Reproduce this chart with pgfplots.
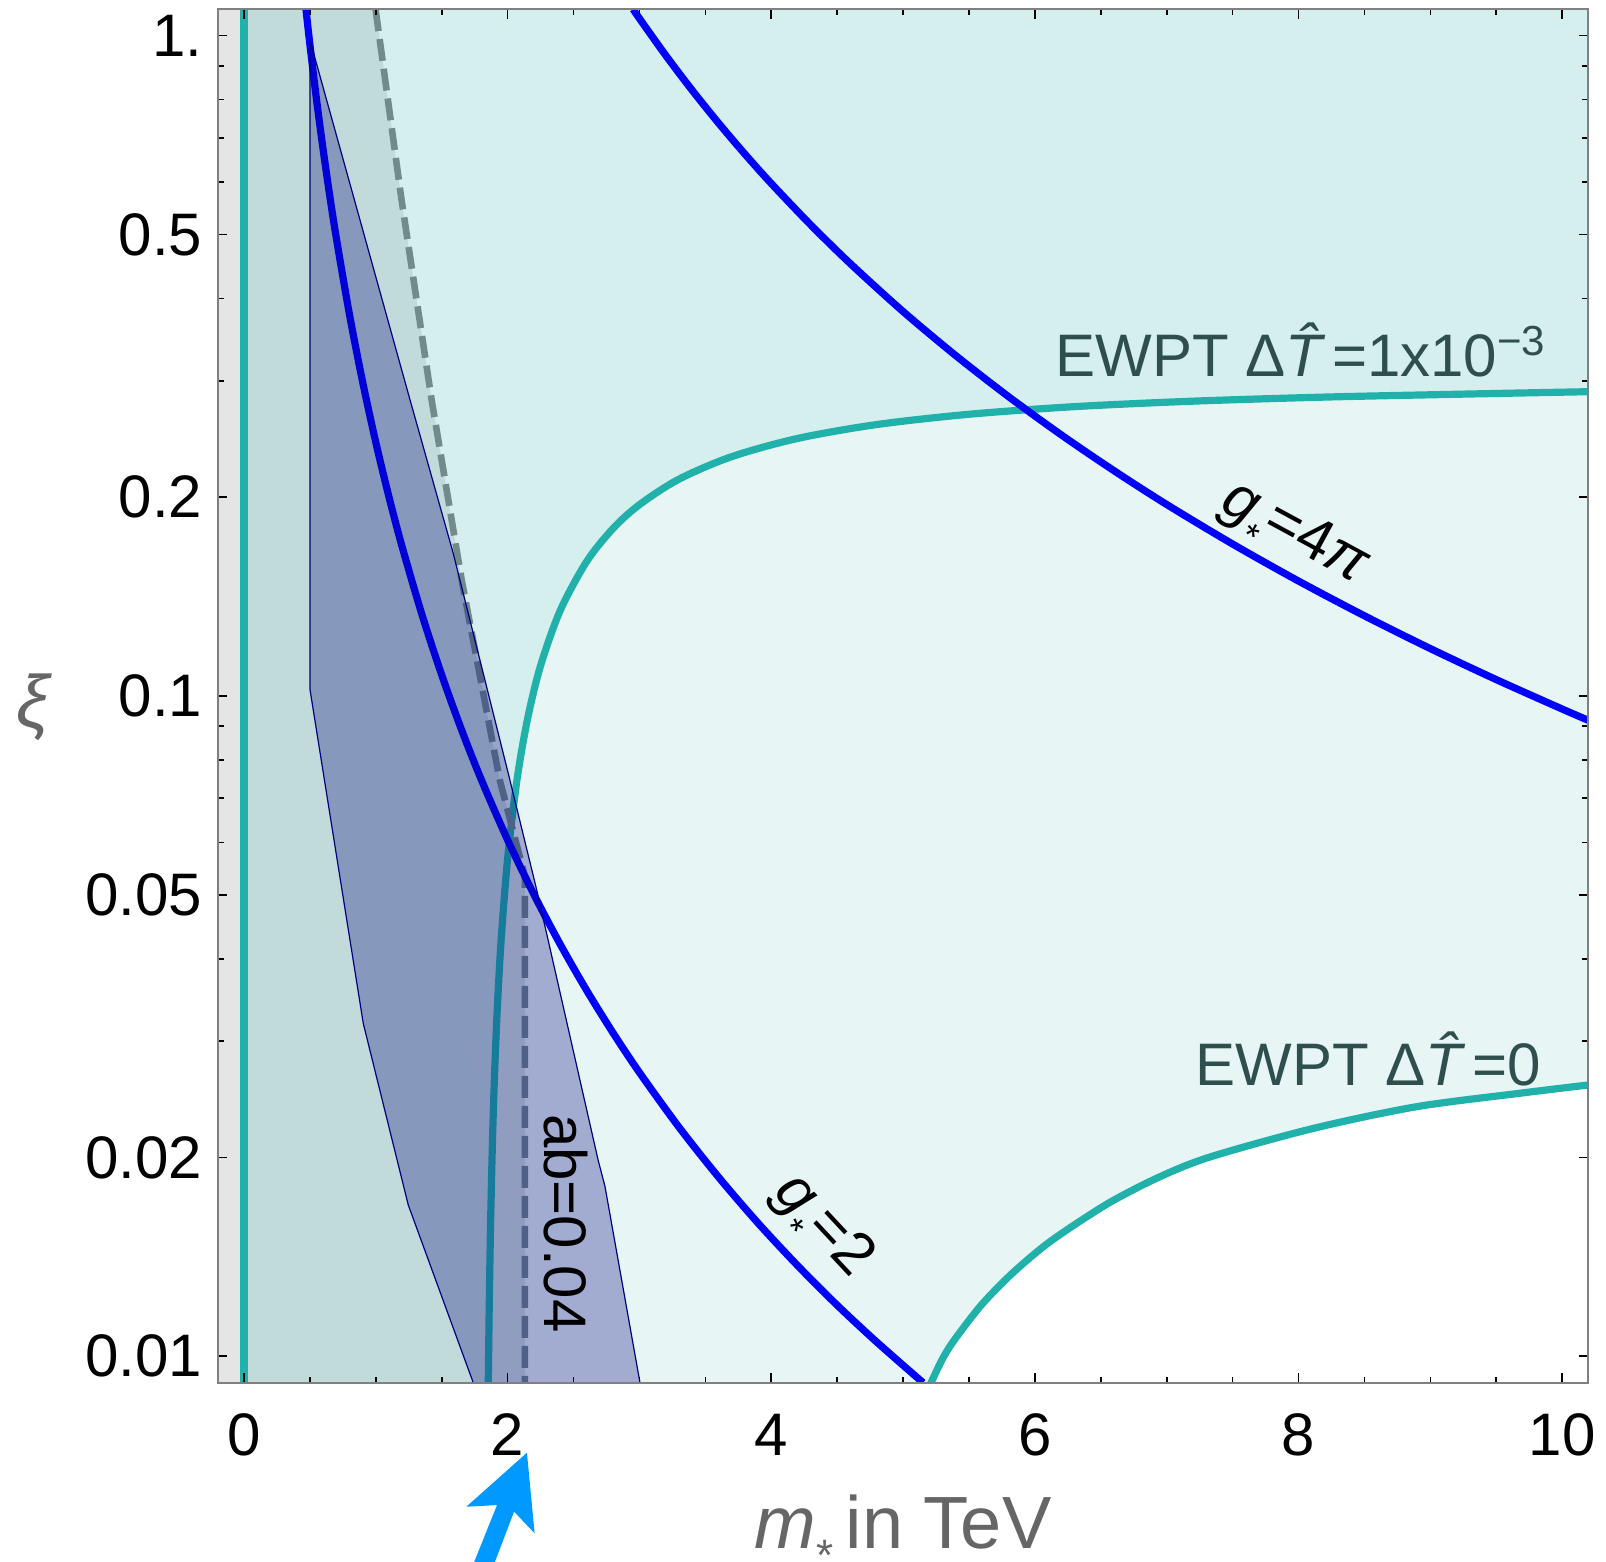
\documentclass[border=0pt]{standalone}
\usepackage{pgfplots}
\pgfplotsset{compat=1.18}
\usepackage{fontspec}
\setmainfont{Liberation Sans}
\definecolor{vlteal}{RGB}{231,246,245}
\definecolor{lteal}{RGB}{213,238,238}
\definecolor{lgray}{RGB}{229,229,229}
\definecolor{seag}{RGB}{32,178,170}
\definecolor{dashc}{RGB}{113,139,139}
\definecolor{bandc}{RGB}{3,1,124}
\definecolor{edgec}{RGB}{0,0,128}
\definecolor{lblc}{RGB}{47,79,79}
\definecolor{axlbl}{RGB}{102,102,102}
\definecolor{arrowc}{RGB}{0,153,255}
\newcommand{\gstar}{\textit{g}\raisebox{-5.2pt}{\fontsize{9}{9}\selectfont *}}
\begin{document}
\begin{tikzpicture}
\begin{axis}[
  scale only axis, width=342.7pt, height=343.35pt,
  xmin=-0.2, xmax=10.2, ymode=log, log basis y=10, ymin=0.00912, ymax=1.0965,
  xtick={0,2,4,6,8,10}, xticklabels={0,2,4,6,8,10},
  minor xtick={0.5,1,1.5,2.5,3,3.5,4.5,5,5.5,6.5,7,7.5,8.5,9,9.5},
  ytick={0.01,0.02,0.05,0.1,0.2,0.5,1}, yticklabels={0.01,0.02,0.05,0.1,0.2,0.5,1.},
  minor ytick={0.03,0.04,0.06,0.07,0.08,0.09,0.3,0.4,0.6,0.7,0.8,0.9},
  tick align=inside,
  major tick length=2.4pt, minor tick length=1.5pt,
  every tick/.style={black, line width=0.4pt},
  axis line style={gray, line width=0.5pt},
  ticklabel style={font=\fontsize{15}{18}\selectfont, text=black},
  xticklabel style={inner sep=0pt, anchor=north, yshift=-7.6pt},
  yticklabel style={inner sep=0pt, anchor=east, xshift=-3.7pt},
  /pgf/number format/assume math mode=true,
  clip mode=individual,
  axis on top,
]
% very light teal: above EWPT DeltaT=0
\addplot[draw=none, fill=vlteal] coordinates {(-0.2,0.00912) (5.212,0.00912) (5.300,0.00992) (5.388,0.01058) (5.583,0.01189) (5.777,0.01306) (5.973,0.01416) (6.168,0.01518) (6.557,0.01705) (6.947,0.0187) (7.336,0.02006) (8.117,0.02215) (8.897,0.02388) (9.676,0.02502) (10.2,0.02576) (10.2,1.0965) (-0.2,1.0965)};
% light teal: above EWPT DeltaT=1e-3
\addplot[draw=none, fill=lteal] coordinates {(-0.2,0.00912) (1.853,0.00912) (1.86,0.0118) (1.87,0.0157) (1.885,0.02126) (1.90,0.02652) (1.92,0.03318) (1.95,0.04256) (2.0,0.05679) (2.07,0.07447) (2.15,0.09213) (2.25,0.1112) (2.4,0.1349) (2.6,0.1599) (2.8,0.1794) (3.0,0.1949) (3.3,0.2130) (3.7,0.2304) (4.2,0.2455) (4.8,0.2577) (5.5,0.2671) (6.3,0.2743) (7.2,0.2796) (8.2,0.2836) (9.2,0.2864) (10.2,0.2890) (10.2,1.0965) (-0.2,1.0965)};
% grey overlay left of dashed line
\addplot[draw=none, fill=dashc, fill opacity=0.2] coordinates {(0,0.00912) (2.131,0.00912) (2.131,0.0533) (1.94,0.0746) (1.651,0.150) (1.423,0.281) (1.195,0.564) (0.998,1.0965) (0,1.0965)};
% grey strip
\addplot[draw=none, fill=lgray] coordinates {(-0.2,0.00912) (0,0.00912) (0,1.0965) (-0.2,1.0965)};
% teal lines
\addplot[seag, line width=1.9pt] coordinates {(0,0.00912) (0,1.0965)};
\addplot[seag, line width=1.8pt, smooth, tension=0.5] coordinates {(1.850,0.0080) (1.853,0.00912) (1.86,0.0118) (1.87,0.0157) (1.885,0.02126) (1.90,0.02652) (1.92,0.03318) (1.95,0.04256) (2.0,0.05679) (2.07,0.07447) (2.15,0.09213) (2.25,0.1112) (2.4,0.1349) (2.6,0.1599) (2.8,0.1794) (3.0,0.1949) (3.3,0.2130) (3.7,0.2304) (4.2,0.2455) (4.8,0.2577) (5.5,0.2671) (6.3,0.2743) (7.2,0.2796) (8.2,0.2836) (9.2,0.2864) (10.2,0.2890)};
\addplot[seag, line width=1.8pt, smooth, tension=0.5] coordinates {(5.151,0.00856) (5.212,0.00912) (5.300,0.00992) (5.388,0.01058) (5.583,0.01189) (5.777,0.01306) (5.973,0.01416) (6.168,0.01518) (6.557,0.01705) (6.947,0.0187) (7.336,0.02006) (8.117,0.02215) (8.897,0.02388) (9.676,0.02502) (10.2,0.02576)};
% dashed line
\addplot[dashc, line width=1.65pt, dash pattern=on 5.5pt off 2pt] coordinates {(0.998,1.0965) (1.195,0.564) (1.423,0.281) (1.651,0.150) (1.94,0.0746) (2.131,0.0533) (2.131,0.00912)};
% g*=2
\addplot[blue, line width=1.8pt, smooth] coordinates {(0.4699,1.0963) (0.5,0.96826) (0.55,0.80021) (0.6,0.67240) (0.65,0.57293) (0.7,0.49401) (0.8,0.37823) (0.9,0.29885) (1.0,0.24206) (1.1,0.20005) (1.2,0.16810) (1.35,0.13282) (1.5,0.10758) (1.65,0.08891) (1.8,0.07471) (2.0,0.06052) (2.2,0.05001) (2.4,0.04203) (2.6,0.03581) (2.8,0.03088) (3.0,0.02690) (3.3,0.02223) (3.6,0.01868) (3.9,0.01591) (4.2,0.01372) (4.5,0.01195) (4.8,0.01051) (5.152,0.00912)};
% g*=4pi
\addplot[blue, line width=1.8pt, smooth] coordinates {(2.952,1.0966) (3.0,1.0618) (3.2,0.93322) (3.4,0.82666) (3.6,0.73736) (3.8,0.66179) (4.0,0.59726) (4.3,0.51683) (4.6,0.45162) (5.0,0.38225) (5.4,0.32771) (5.8,0.28407) (6.2,0.24860) (6.6,0.21938) (7.0,0.19503) (7.5,0.16989) (8.0,0.14932) (8.5,0.13227) (9.0,0.11798) (9.5,0.10589) (10.0,0.09556) (10.2,0.09185)};
% band
\addplot[draw=edgec, line width=0.3pt, fill=bandc, fill opacity=0.3] coordinates {(0.5,0.985) (1.259,0.281) (1.587,0.1645) (2.017,0.0746) (2.221,0.0508) (2.687,0.0198) (2.738,0.0181) (3.004,0.00912) (1.739,0.00912) (1.246,0.01695) (0.905,0.0319) (0.5,0.1024)} -- cycle;
% labels
\node[anchor=base west, text=lblc, font=\fontsize{15}{18}\selectfont, inner sep=0pt] at (axis cs:6.152,0.3052) {EWPT Δ\textit{\^{T}}=1x10\textsuperscript{−3}};
\node[anchor=base west, text=lblc, font=\fontsize{15}{18}\selectfont, inner sep=0pt] at (axis cs:7.215,0.0257) {EWPT Δ\textit{\^{T}}=0};
\node[rotate=-28.5, font=\fontsize{15}{18}\selectfont, inner sep=0pt] at (axis cs:7.956,0.1737) {\gstar=4\textit{π}};
\node[rotate=-47, font=\fontsize{15}{18}\selectfont, inner sep=0pt] at (axis cs:4.365,0.01559) {\gstar=2};
\node[rotate=-90, font=\fontsize{15}{18}\selectfont, inner sep=0pt] at (axis cs:2.44,0.0159) {ab=0.04};
\node[anchor=base, text=axlbl, font=\fontsize{18.5}{22}\selectfont, inner sep=0pt] at (rel axis cs:0.5,-0.1206) {\textit{m}\raisebox{-5.5pt}{\fontsize{11}{11}\selectfont *}\,in TeV};
\node[text=axlbl, font=\fontsize{18.5}{22}\selectfont, inner sep=0pt] at (rel axis cs:-0.134,0.492) {\textit{ξ}};
\fill[arrowc] (rel axis cs:0.2256,-0.0510) -- (rel axis cs:0.2312,-0.1096) -- (rel axis cs:0.2162,-0.0939) -- (rel axis cs:0.1986,-0.14) -- (rel axis cs:0.1833,-0.14) -- (rel axis cs:0.2038,-0.0891) -- (rel axis cs:0.1814,-0.0903) -- cycle;
\coordinate (bbsw) at (rel axis cs:-0.1588,-0.13055);
\coordinate (bbne) at (rel axis cs:1.01277,1.00677);
\end{axis}
\pgfresetboundingbox
\path[use as bounding box] (bbsw) rectangle (bbne);
\end{tikzpicture}
\end{document}
